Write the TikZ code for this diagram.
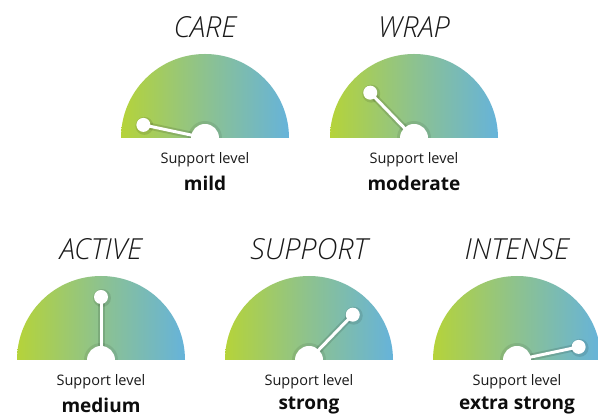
\documentclass[tikz,border=0pt]{standalone}
\usepackage{fontspec}
\setmainfont{Open Sans}
\newfontfamily\titlefont{Open Sans Light}[ItalicFont={Open Sans Light Italic}]
\definecolor{gl}{HTML}{B5D33A}
\definecolor{gm}{HTML}{8DC28F}
\definecolor{gr}{HTML}{66B3DA}
\tikzset{
  titletext/.style={font=\titlefont\fontsize{29}{31}\selectfont\itshape, text=black!90},
  labeltext/.style={font=\fontsize{14.5}{17}\selectfont, text=black!90},
  leveltext/.style={font=\fontsize{19}{21}\selectfont\bfseries, text=black!95},
  needle/.style={white, line width=3pt},
  needleshadow/.style={black, opacity=0.12, line width=7pt, line cap=round},
}
\newcommand\mygauge[6]{%
  % #1 name, #2 cx, #3 cy, #4 angle, #5 title, #6 level
  \begin{scope}[shift={(#2,#3)}]
    \shade[left color=gl, right color=gr, middle color=gm] (-84,0) arc[start angle=180, end angle=0, radius=84] -- cycle;
    \begin{scope}
      \clip (-84,0) arc[start angle=180, end angle=0, radius=84] -- cycle;
      \draw[needleshadow] (0,0) -- ({#4}:63);
      \fill[black, opacity=0.10] ({#4}:63) ++(1,-1) circle[radius=9];
      \fill[black, opacity=0.08] (0,0) circle[radius=17];
    \end{scope}
    \draw[needle] (0,0) -- ({#4}:63);
    \fill[white] ({#4}:63) circle[radius=7];
    \fill[white] (14,0) arc[start angle=0, end angle=180, radius=14] -- cycle;
    \node[titletext] (#1-title) at (0,111) {#5};
    \node[labeltext] (#1-label) at (0,-22) {Support level};
    \node[leveltext] (#1-level) at (0,-45) {#6};
  \end{scope}}
\begin{document}
\begin{tikzpicture}[x=1pt,y=1pt]
\useasboundingbox (0,0) rectangle (598,417);
\fill[white] (0,0) rectangle (598,417);
\begin{scope}
\clip (0,0) rectangle (598,417);
\mygauge{care}{205}{279}{168}{CARE}{mild}
\mygauge{wrap}{414}{279}{134}{WRAP}{moderate}
\mygauge{active}{101}{57}{90}{ACTIVE}{medium}
\mygauge{support}{309}{57}{46}{SUPPORT}{strong}
\mygauge{intense}{517}{57}{12}{INTENSE}{extra strong}
\end{scope}
\end{tikzpicture}
\end{document}
